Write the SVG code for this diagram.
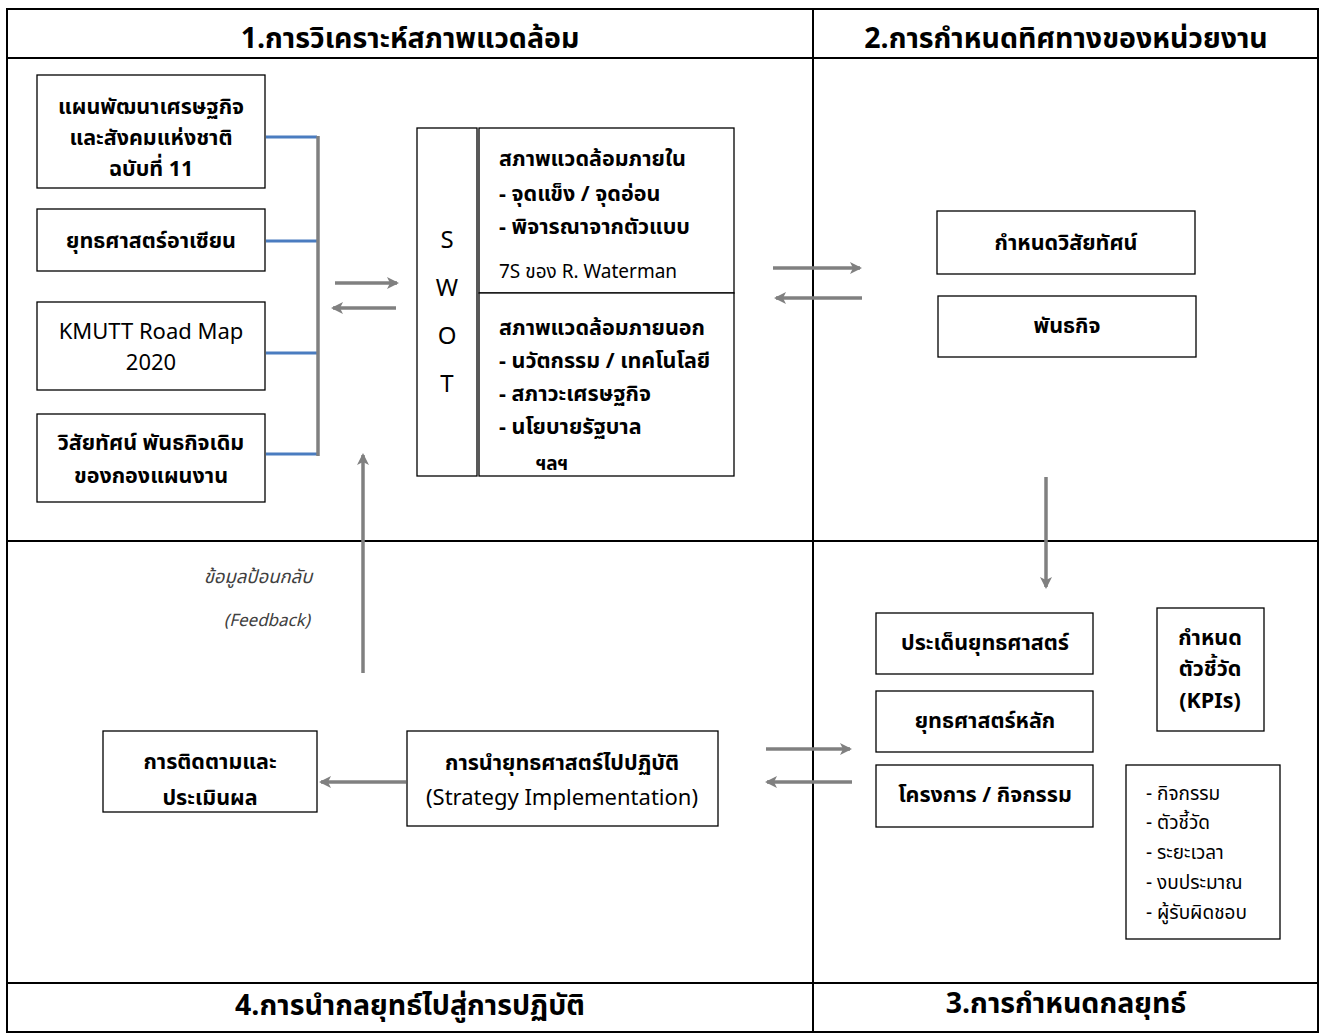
<svg xmlns="http://www.w3.org/2000/svg" width="1320" height="1035" viewBox="0 0 1320 1035">
<style>
text{font-family:"Noto Sans Thai","Noto Sans","DejaVu Sans",sans-serif;fill:#000;}
.t{font-size:21.5px;font-weight:bold;text-anchor:middle;}
.n{font-size:22px;text-anchor:middle;}
.h{font-size:28.5px;font-weight:bold;text-anchor:middle;}
.l{font-size:21.5px;font-weight:bold;}
.s{font-size:19px;}
.sw{font-size:24px;text-anchor:middle;}
.box{fill:#fff;stroke:#000;stroke-width:1.3;}
.frame{fill:none;stroke:#000;stroke-width:2;}
.arr{stroke:#808080;stroke-width:3.5;fill:none;}
.blue{stroke:#4a7cc0;stroke-width:3;fill:none;}
.fb{font-style:italic;fill:#404040;text-anchor:middle;}
</style>
<defs>
<marker id="ah" viewBox="0 0 12 12" refX="10" refY="6" markerWidth="12" markerHeight="12" markerUnits="userSpaceOnUse" orient="auto">
<path d="M0,0 L12,6 L0,12 L3,6 z" fill="#808080"/>
</marker>
</defs>
<rect width="1320" height="1035" fill="#fff"/>
<g id="frame">
<rect class="frame" x="7" y="9" width="1311" height="1023"/>
<line class="frame" x1="7" y1="58" x2="1318" y2="58"/>
<line class="frame" x1="7" y1="541" x2="1318" y2="541"/>
<line class="frame" x1="7" y1="983" x2="1318" y2="983"/>
<line class="frame" x1="813" y1="9" x2="813" y2="1032"/>
<text class="h" x="410" y="48">1.การวิเคราะห์สภาพแวดล้อม</text>
<text class="h" x="1066" y="48">2.การกำหนดทิศทางของหน่วยงาน</text>
<text class="h" x="410" y="1015">4.การนำกลยุทธ์ไปสู่การปฏิบัติ</text>
<text class="h" x="1066" y="1013">3.การกำหนดกลยุทธ์</text>
</g>
<g id="connectors">
<line class="blue" x1="266" y1="137" x2="317" y2="137"/>
<line class="blue" x1="266" y1="241" x2="317" y2="241"/>
<line class="blue" x1="266" y1="353" x2="317" y2="353"/>
<line class="blue" x1="266" y1="454" x2="317" y2="454"/>
<line class="arr" x1="318" y1="136" x2="318" y2="456"/>
<line class="arr" x1="335" y1="283" x2="397" y2="283" marker-end="url(#ah)"/>
<line class="arr" x1="396" y1="308" x2="333" y2="308" marker-end="url(#ah)"/>
<line class="arr" x1="773" y1="268" x2="860" y2="268" marker-end="url(#ah)"/>
<line class="arr" x1="862" y1="298" x2="776" y2="298" marker-end="url(#ah)"/>
<line class="arr" x1="1046" y1="477" x2="1046" y2="587" marker-end="url(#ah)"/>
<line class="arr" x1="766" y1="749" x2="850" y2="749" marker-end="url(#ah)"/>
<line class="arr" x1="852" y1="782" x2="767" y2="782" marker-end="url(#ah)"/>
<line class="arr" x1="406" y1="782" x2="321" y2="782" marker-end="url(#ah)"/>
<line class="arr" x1="363" y1="673" x2="363" y2="455" marker-end="url(#ah)"/>
</g>
<g id="n-plan">
<rect class="box" x="37" y="75" width="228" height="113"/>
<text class="t" x="151" y="114">แผนพัฒนาเศรษฐกิจ</text>
<text class="t" x="151" y="145">และสังคมแห่งชาติ</text>
<text class="t" x="151" y="176">ฉบับที่ 11</text>
</g>
<g id="n-asean">
<rect class="box" x="37" y="209" width="228" height="62"/>
<text class="t" x="151" y="248">ยุทธศาสตร์อาเซียน</text>
</g>
<g id="n-kmutt">
<rect class="box" x="37" y="302" width="228" height="88"/>
<text class="n" x="151" y="339">KMUTT Road Map</text>
<text class="n" x="151" y="370">2020</text>
</g>
<g id="n-vision-old">
<rect class="box" x="37" y="414" width="228" height="88"/>
<text class="t" x="151" y="450">วิสัยทัศน์ พันธกิจเดิม</text>
<text class="t" x="151" y="483">ของกองแผนงาน</text>
</g>
<g id="n-swot">
<rect class="box" x="417" y="128" width="60" height="348"/>
<text class="sw" x="447" y="248">S</text>
<text class="sw" x="447" y="296">W</text>
<text class="sw" x="447" y="344">O</text>
<text class="sw" x="447" y="392">T</text>
<rect class="box" x="479" y="128" width="255" height="165"/>
<rect class="box" x="479" y="293" width="255" height="183"/>
<text class="l" x="499" y="166">สภาพแวดล้อมภายใน</text>
<text class="l" x="499" y="201">- จุดแข็ง / จุดอ่อน</text>
<text class="l" x="499" y="234">- พิจารณาจากตัวแบบ</text>
<text class="s" x="499" y="278">7S ของ R. Waterman</text>
<text class="l" x="499" y="335">สภาพแวดล้อมภายนอก</text>
<text class="l" x="499" y="368">- นวัตกรรม / เทคโนโลยี</text>
<text class="l" x="499" y="401">- สภาวะเศรษฐกิจ</text>
<text class="l" x="499" y="434">- นโยบายรัฐบาล</text>
<text class="l" x="536" y="470" style="font-size:19px">ฯลฯ</text>
</g>
<g id="n-vision">
<rect class="box" x="937" y="211" width="258" height="63"/>
<text class="t" x="1066" y="250">กำหนดวิสัยทัศน์</text>
</g>
<g id="n-mission">
<rect class="box" x="938" y="296" width="258" height="61"/>
<text class="t" x="1067" y="333">พันธกิจ</text>
</g>
<g id="n-issues">
<rect class="box" x="876" y="613" width="217" height="61"/>
<text class="t" x="985" y="650">ประเด็นยุทธศาสตร์</text>
</g>
<g id="n-main">
<rect class="box" x="876" y="691" width="217" height="61"/>
<text class="t" x="985" y="728">ยุทธศาสตร์หลัก</text>
</g>
<g id="n-projects">
<rect class="box" x="876" y="765" width="217" height="62"/>
<text class="t" x="985" y="802">โครงการ / กิจกรรม</text>
</g>
<g id="n-kpi">
<rect class="box" x="1157" y="608" width="107" height="123"/>
<text class="t" x="1210" y="645">กำหนด</text>
<text class="t" x="1210" y="676">ตัวชี้วัด</text>
<text class="t" x="1210" y="708">(KPIs)</text>
</g>
<g id="n-list">
<rect class="box" x="1126" y="765" width="154" height="174"/>
<text class="s" x="1146" y="800">- กิจกรรม</text>
<text class="s" x="1146" y="829">- ตัวชี้วัด</text>
<text class="s" x="1146" y="859">- ระยะเวลา</text>
<text class="s" x="1146" y="889">- งบประมาณ</text>
<text class="s" x="1146" y="919">- ผู้รับผิดชอบ</text>
</g>
<g id="n-impl">
<rect class="box" x="407" y="731" width="311" height="95"/>
<text class="t" x="562" y="770">การนำยุทธศาสตร์ไปปฏิบัติ</text>
<text class="n" x="562" y="805">(Strategy Implementation)</text>
</g>
<g id="n-monitor">
<rect class="box" x="103" y="731" width="214" height="81"/>
<text class="t" x="210" y="769">การติดตามและ</text>
<text class="t" x="210" y="805">ประเมินผล</text>
</g>
<g id="feedback">
<text class="fb" x="258" y="583" style="font-size:18.5px">ข้อมูลป้อนกลับ</text>
<text class="fb" x="267" y="626" style="font-size:17px">(Feedback)</text>
</g>
</svg>
